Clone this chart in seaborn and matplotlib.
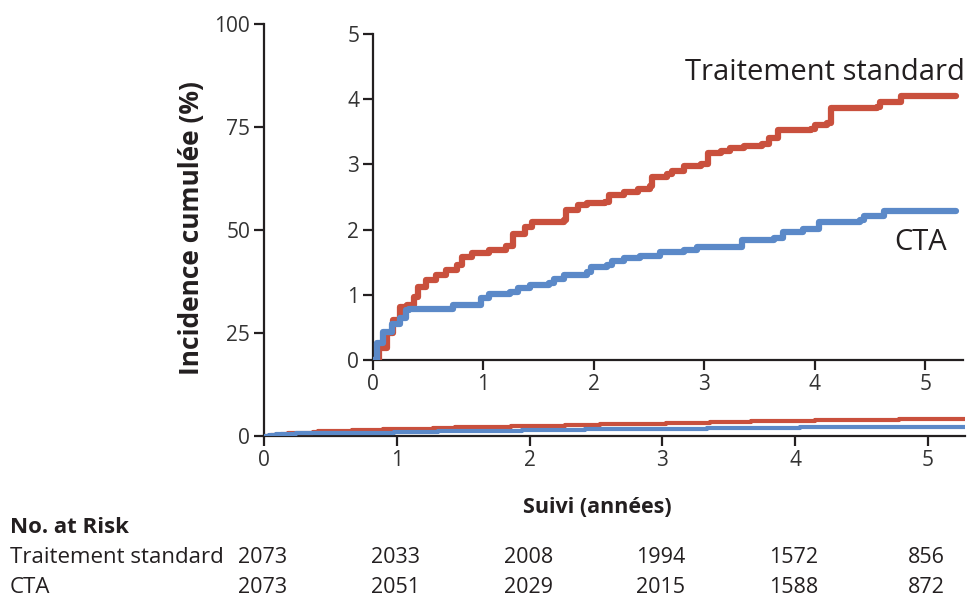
import matplotlib
matplotlib.use("Agg")
import matplotlib.pyplot as plt
import matplotlib.transforms as mtransforms
import seaborn as sns
import pandas as pd

sns.set_theme(style="ticks")
FONT = ['Open Sans', 'DejaVu Sans']
plt.rcParams['font.family'] = FONT

# ---- data (years, cumulative incidence %) ----
std_t = [0.00, 0.055, 0.13, 0.18, 0.24, 0.31, 0.37, 0.41, 0.48, 0.57, 0.66, 0.76, 0.81, 0.90,
         1.05, 1.20, 1.27, 1.38, 1.44, 1.57, 1.73, 1.75, 1.86, 1.94, 2.10, 2.14, 2.27, 2.40,
         2.51, 2.53, 2.66, 2.71, 2.82, 2.97, 3.03, 3.15, 3.23, 3.36, 3.52, 3.59, 3.67, 3.97,
         4.00, 4.11, 4.15, 4.56, 4.59, 4.76, 4.78, 5.28]
std_y = [0.00, 0.18, 0.41, 0.61, 0.82, 0.84, 0.97, 1.12, 1.23, 1.30, 1.38, 1.46, 1.58, 1.64,
         1.69, 1.75, 1.94, 2.04, 2.11, 2.12, 2.15, 2.30, 2.38, 2.41, 2.43, 2.53, 2.58, 2.63,
         2.67, 2.81, 2.85, 2.90, 2.98, 3.01, 3.17, 3.21, 3.25, 3.28, 3.32, 3.40, 3.53, 3.55,
         3.60, 3.63, 3.86, 3.88, 3.96, 3.96, 4.05, 4.05]
cta_t = [0.00, 0.04, 0.09, 0.17, 0.24, 0.30, 0.33, 0.68, 0.72, 0.94, 0.98, 1.05, 1.24, 1.31,
         1.42, 1.59, 1.64, 1.73, 1.94, 1.97, 2.12, 2.16, 2.27, 2.42, 2.60, 2.82, 2.93, 3.15,
         3.34, 3.63, 3.71, 3.89, 4.04, 4.41, 4.45, 4.63, 5.28]
cta_y = [0.00, 0.26, 0.43, 0.56, 0.64, 0.77, 0.78, 0.79, 0.84, 0.84, 0.95, 1.02, 1.05, 1.10,
         1.15, 1.18, 1.25, 1.30, 1.35, 1.42, 1.46, 1.52, 1.57, 1.60, 1.65, 1.69, 1.73, 1.74,
         1.84, 1.87, 1.97, 2.01, 2.12, 2.15, 2.21, 2.28, 2.29]

groups = ["Traitement standard", "CTA"]
risk_times = [0, 1, 2, 3, 4, 5]
risk_std = [2073, 2033, 2008, 1994, 1572, 856]
risk_cta = [2073, 2051, 2029, 2015, 1588, 872]

df = pd.concat([
    pd.DataFrame({"t": std_t, "y": std_y, "g": groups[0]}),
    pd.DataFrame({"t": cta_t, "y": cta_y, "g": groups[1]}),
], ignore_index=True)

palette = {groups[0]: "#c9503d", groups[1]: "#5b89c8"}
TXT = "#231f20"

fig = plt.figure(figsize=(9.73, 5.99), dpi=100)
ax = fig.add_axes([0.2713, 0.2721, 0.7205, 0.688])
ins = fig.add_axes([0.3834, 0.399, 0.606, 0.544])


def style(a):
    for s in ["top", "right"]:
        a.spines[s].set_visible(False)
    for s in ["left", "bottom"]:
        a.spines[s].set_linewidth(1.6)
        a.spines[s].set_color(TXT)
    a.tick_params(direction="out", length=7, width=1.6, color=TXT,
                  labelcolor="#333333", labelsize=15, pad=3)
    a.patch.set_alpha(0)
    a.set_xlabel("")
    a.set_ylabel("")
    leg = a.get_legend()
    if leg:
        leg.remove()


sns.lineplot(data=df, x="t", y="y", hue="g", palette=palette, ax=ax,
             estimator=None, sort=False, drawstyle="steps-post", linewidth=3.0)
ax.set_xlim(0, 5.28)
ax.set_ylim(0, 100)
ax.set_xticks([0, 1, 2, 3, 4, 5])
ax.set_yticks([0, 25, 50, 75, 100])
style(ax)

sns.lineplot(data=df, x="t", y="y", hue="g", palette=palette, ax=ins,
             estimator=None, sort=False, drawstyle="steps-post", linewidth=4.5)
ins.set_xlim(0, 5.34)
ins.set_ylim(0, 5)
ins.set_xticks([0, 1, 2, 3, 4, 5])
ins.set_yticks([0, 1, 2, 3, 4, 5])
style(ins)
for a in (ax, ins):
    for sp in a.spines.values():
        sp.set_zorder(0.5)

ins.text(5.36, 4.29, "Traitement standard", ha="right", va="baseline", fontsize=21, color=TXT)
ins.text(5.2, 1.80, "CTA", ha="right", va="center", fontsize=21, color=TXT)

fig.text(0.197, 0.620, "Incidence cumulée (%)", rotation=90, ha="center", va="center",
         fontsize=19, fontweight="bold", color=TXT)
fig.text(0.614, 0.153, "Suivi (années)", ha="center", va="center",
         fontsize=15.5, fontweight="bold", color=TXT)
fig.text(0.010, 0.120, "No. at Risk", ha="left", va="center",
         fontsize=16, fontweight="bold", color=TXT)

trans = mtransforms.blended_transform_factory(ax.transData, fig.transFigure)
fig.text(0.010, 0.070, groups[0], ha="left", va="center", fontsize=16, color=TXT)
fig.text(0.010, 0.020, groups[1], ha="left", va="center", fontsize=16, color=TXT)
for t, a_, b_ in zip(risk_times, risk_std, risk_cta):
    ax.text(t - 0.01, 0.070, str(a_), transform=trans, ha="center", va="center",
            fontsize=15.5, color=TXT)
    ax.text(t - 0.01, 0.020, str(b_), transform=trans, ha="center", va="center",
            fontsize=15.5, color=TXT)

fig.savefig("out.png", dpi=100)
